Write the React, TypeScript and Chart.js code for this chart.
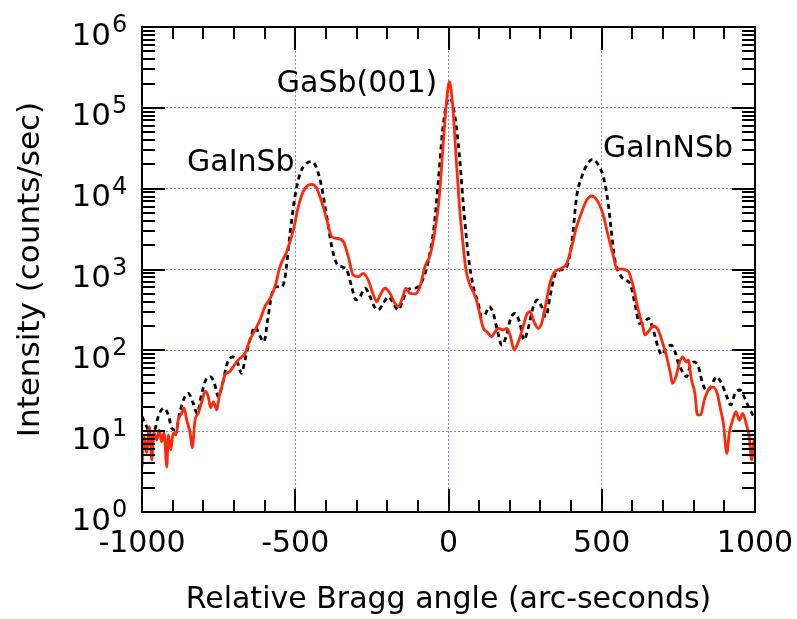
import React, { useEffect, useRef } from 'react';
import { Chart, registerables } from 'chart.js';

Chart.register(...registerables);

// Relative Bragg angle (arc-seconds) and intensity (counts/sec) — red solid series
const redAngle = [
  -1000, -993, -985, -976, -968, -961, -952, -944, -936, -928, -919, -914, -906, -898, -889, -882, -870, -863, -854, -843,
  -836, -827, -816, -805, -794, -784, -776, -767, -756, -748, -740, -729, -715, -702, -686, -664, -648, -631, -615, -599,
  -582, -566, -550, -528, -506, -490, -474, -457, -446, -430, -414, -397, -381, -365, -343, -327, -311, -294, -278, -262,
  -245, -234, -223, -207, -191, -175, -164, -149, -139, -126, -109, -93, -77, -60, -44, -30, -17, -6, 3, 14,
  24, 35, 46, 57, 70, 83, 94, 105, 114, 125, 141, 152, 162, 179, 190, 201, 214, 228, 242, 255,
  266, 279, 293, 304, 318, 331, 347, 369, 386, 402, 418, 435, 451, 467, 484, 505, 521, 538, 549, 565,
  587, 603, 619, 634, 641, 652, 668, 684, 699, 712, 723, 731, 742, 753, 764, 775, 782, 793, 804, 812,
  823, 834, 842, 851, 864, 877, 888, 897, 908, 916, 927, 938, 949, 960, 971, 981, 989, 997, 1000,
];
const redCounts = [
  3.6, 8.6, 5.4, 11.4, 4.4, 9.5, 7.8, 10.3, 7.4, 9.5, 3.6, 9.0, 5.9, 9.5, 9.0, 13.7, 16.8, 19.4, 13.7, 9.5,
  6.2, 13.7, 16.8, 23, 31, 27, 19.4, 23, 18.3, 27, 35, 50, 54, 63, 76, 92, 134, 179, 237, 347,
  441, 613, 1080, 1660, 3080, 5990, 9180, 11100, 11300, 10100, 6900, 4100, 2550, 2430, 2210, 1440, 855, 815, 898, 742,
  484, 400, 484, 586, 508, 382, 347, 461, 586, 508, 498, 613, 1080, 1510, 3080, 7960, 36500, 125000, 211000, 103000,
  27400, 6590, 2320, 986, 643, 508, 382, 249, 187, 170, 148, 170, 187, 179, 187, 155, 101, 128, 187, 274,
  301, 226, 187, 216, 382, 676, 940, 1035, 1190, 1920, 3390, 5190, 7240, 8120, 7240, 4720, 2600, 1470, 1010, 1010,
  940, 613, 316, 196, 155, 170, 200, 179, 122, 83, 54, 39, 47, 69, 83, 72, 76, 43, 29, 15.9,
  15.9, 24, 29, 34, 35, 29, 18.3, 12.5, 5.3, 9.4, 13.7, 17.4, 13.7, 16.6, 12.5, 8.6, 4.4, 7.8, 4.8,
];

// Black dotted series
const blackAngle = [
  -1000, -985, -968, -958, -947, -930, -914, -903, -889, -876, -860, -849, -833, -820, -805, -789, -776, -762, -751, -737,
  -722, -704, -689, -675, -664, -648, -631, -617, -602, -590, -577, -563, -544, -533, -517, -501, -484, -463, -446, -430,
  -414, -397, -381, -365, -348, -332, -316, -302, -289, -272, -256, -242, -229, -213, -196, -180, -164, -149, -134, -115,
  -99, -80, -63, -47, -33, -19, -6, 5, 21, 35, 48, 65, 81, 97, 108, 119, 133, 146, 159, 174,
  188, 203, 217, 233, 246, 260, 275, 290, 304, 318, 331, 347, 364, 383, 402, 418, 435, 451, 470, 489,
  505, 521, 530, 543, 560, 576, 592, 608, 623, 636, 652, 668, 683, 696, 710, 726, 739, 750, 764, 777,
  788, 801, 815, 829, 842, 856, 873, 891, 908, 921, 935, 951, 967, 981, 993, 1000,
];
const blackCounts = [
  15.1, 11.4, 7.8, 10.3, 15.1, 19.2, 15.9, 10.9, 10.3, 17.4, 26.7, 29.4, 22.1, 16.6, 29.4, 45, 47, 37, 26.7, 39,
  69, 83, 72, 52, 76, 134, 196, 155, 128, 237, 484, 613, 608, 815, 2810, 7960, 15500, 20600, 21600, 17900,
  10600, 4500, 1920, 1190, 1080, 986, 613, 420, 461, 586, 461, 347, 316, 382, 461, 382, 316, 420, 558, 586,
  613, 815, 1440, 3390, 12800, 53200, 114000, 131000, 77800, 27400, 6590, 1440, 613, 382, 261, 274, 347, 287, 179, 116,
  148, 249, 287, 216, 134, 187, 331, 420, 347, 261, 461, 855, 986, 1035, 2110, 7960, 14100, 19600, 23100, 19600,
  14100, 6590, 3300, 1300, 855, 742, 676, 382, 216, 216, 249, 179, 111, 88, 106, 116, 96, 69, 54, 47,
  63, 72, 63, 39, 32, 35, 47, 39, 26.7, 21.1, 29.4, 32.3, 25.5, 19.2, 15.9, 14.6,
];

const xMajorTicks = [-1000, -500, 0, 500, 1000];
const yDecades = [1, 10, 100, 1000, 1e4, 1e5, 1e6];
const yExponents = ['0', '1', '2', '3', '4', '5', '6'];

const peakLabels = ['GaInSb', 'GaSb(001)', 'GaInNSb'];
const peakLabelAngle = [-853, -560, 504];
const peakLabelCounts = [1.66e4, 1.57e5, 2.47e4];

const FONT = "'DejaVu Sans', sans-serif";

const framePlugin = {
  id: 'frameTicks',
  afterDatasetsDraw(chart: any) {
    const { ctx, chartArea: a, scales } = chart;
    const x = scales.x;
    const y = scales.y;
    ctx.save();
    ctx.strokeStyle = '#000';
    ctx.lineWidth = 2;
    ctx.strokeRect(a.left, a.top, a.right - a.left, a.bottom - a.top);

    ctx.beginPath();
    for (let v = -1000; v <= 1000; v += 100) {
      const px = Math.round(x.getPixelForValue(v));
      const len = v % 500 === 0 ? 23 : 12;
      ctx.moveTo(px, a.bottom);
      ctx.lineTo(px, a.bottom - len);
      ctx.moveTo(px, a.top);
      ctx.lineTo(px, a.top + len);
    }
    for (let d = 0; d <= 6; d++) {
      for (let m = 1; m <= 9; m++) {
        if (d === 6 && m > 1) break;
        const v = m * Math.pow(10, d);
        const py = Math.round(y.getPixelForValue(v));
        const len = m === 1 ? 23 : 13;
        ctx.moveTo(a.left, py);
        ctx.lineTo(a.left + len, py);
        ctx.moveTo(a.right, py);
        ctx.lineTo(a.right - len, py);
      }
    }
    ctx.stroke();

    // y tick labels with superscript exponents
    ctx.fillStyle = '#000';
    ctx.textBaseline = 'alphabetic';
    yDecades.forEach((v, i) => {
      const py = y.getPixelForValue(v);
      ctx.font = `31px ${FONT}`;
      ctx.textAlign = 'right';
      ctx.fillText('10', 111, py + 17.5);
      ctx.font = `24px ${FONT}`;
      ctx.textAlign = 'left';
      ctx.fillText(yExponents[i], 112, py + 5);
    });

    // peak annotations
    ctx.font = `30px ${FONT}`;
    ctx.textAlign = 'left';
    peakLabels.forEach((t, i) => {
      ctx.fillText(t, x.getPixelForValue(peakLabelAngle[i]), y.getPixelForValue(peakLabelCounts[i]));
    });
    ctx.restore();
  },
};

export default function App() {
  const ref = useRef<HTMLCanvasElement | null>(null);

  useEffect(() => {
    if (!ref.current) return;
    const gridColor = 'rgb(130,130,255)';
    const chart = new Chart(ref.current, {
      type: 'line',
      data: {
        datasets: [
          {
            label: 'red',
            data: redAngle.map((a, i) => ({ x: a, y: redCounts[i] })),
            borderColor: 'rgb(255,40,10)',
            borderWidth: 2.8,
            pointRadius: 0,
            cubicInterpolationMode: 'monotone',
            fill: false,
          },
          {
            label: 'black',
            data: blackAngle.map((a, i) => ({ x: a, y: blackCounts[i] })),
            borderColor: '#000',
            borderWidth: 2.8,
            borderDash: [5, 4],
            pointRadius: 0,
            cubicInterpolationMode: 'monotone',
            fill: false,
          },
        ],
      },
      options: {
        animation: false,
        responsive: false,
        maintainAspectRatio: false,
        layout: { padding: { left: 0, top: 27, right: 42, bottom: 0 } },
        plugins: { legend: { display: false }, tooltip: { enabled: false } },
        scales: {
          x: {
            type: 'linear',
            min: -1000,
            max: 1000,
            afterBuildTicks: (s: any) => {
              s.ticks = xMajorTicks.map((v) => ({ value: v }));
            },
            afterFit: (s: any) => {
              s.height = 107;
              s.paddingLeft = 0;
              s.paddingRight = 0;
            },
            ticks: {
              color: '#000',
              font: { family: FONT, size: 30 },
              padding: 14,
              maxRotation: 0,
              autoSkip: false,
              callback: (v: any) => String(v),
            },
            grid: {
              drawTicks: false,
              lineWidth: 1,
              color: (c: any) =>
                c.tick && (c.tick.value === -1000 || c.tick.value === 1000) ? 'rgba(0,0,0,0)' : gridColor,
            },
            border: { display: false, dash: [2, 2] },
            title: {
              display: true,
              text: 'Relative Bragg angle (arc-seconds)',
              color: '#000',
              font: { family: FONT, size: 30 },
              padding: { top: 0, bottom: 1 },
            },
          },
          y: {
            type: 'logarithmic',
            min: 1,
            max: 1e6,
            afterBuildTicks: (s: any) => {
              s.ticks = yDecades.map((v) => ({ value: v }));
            },
            afterFit: (s: any) => {
              s.width = 142;
              s.paddingTop = 0;
              s.paddingBottom = 0;
            },
            ticks: { display: false },
            grid: {
              drawTicks: false,
              lineWidth: 1,
              color: (c: any) =>
                c.tick && (c.tick.value === 1 || c.tick.value === 1e6) ? 'rgba(0,0,0,0)' : gridColor,
            },
            border: { display: false, dash: [2, 2] },
            title: {
              display: true,
              text: 'Intensity (counts/sec)',
              color: '#000',
              font: { family: FONT, size: 31 },
              padding: { top: 12, bottom: 0 },
            },
          },
        },
      },
      plugins: [framePlugin],
    } as any);
    return () => chart.destroy();
  }, []);

  return (
    <div style={{ position: 'fixed', left: 0, top: 0, width: 797, height: 619, background: '#fff' }}>
      <canvas ref={ref} width={797} height={619} style={{ width: 797, height: 619, display: 'block' }} />
    </div>
  );
}
